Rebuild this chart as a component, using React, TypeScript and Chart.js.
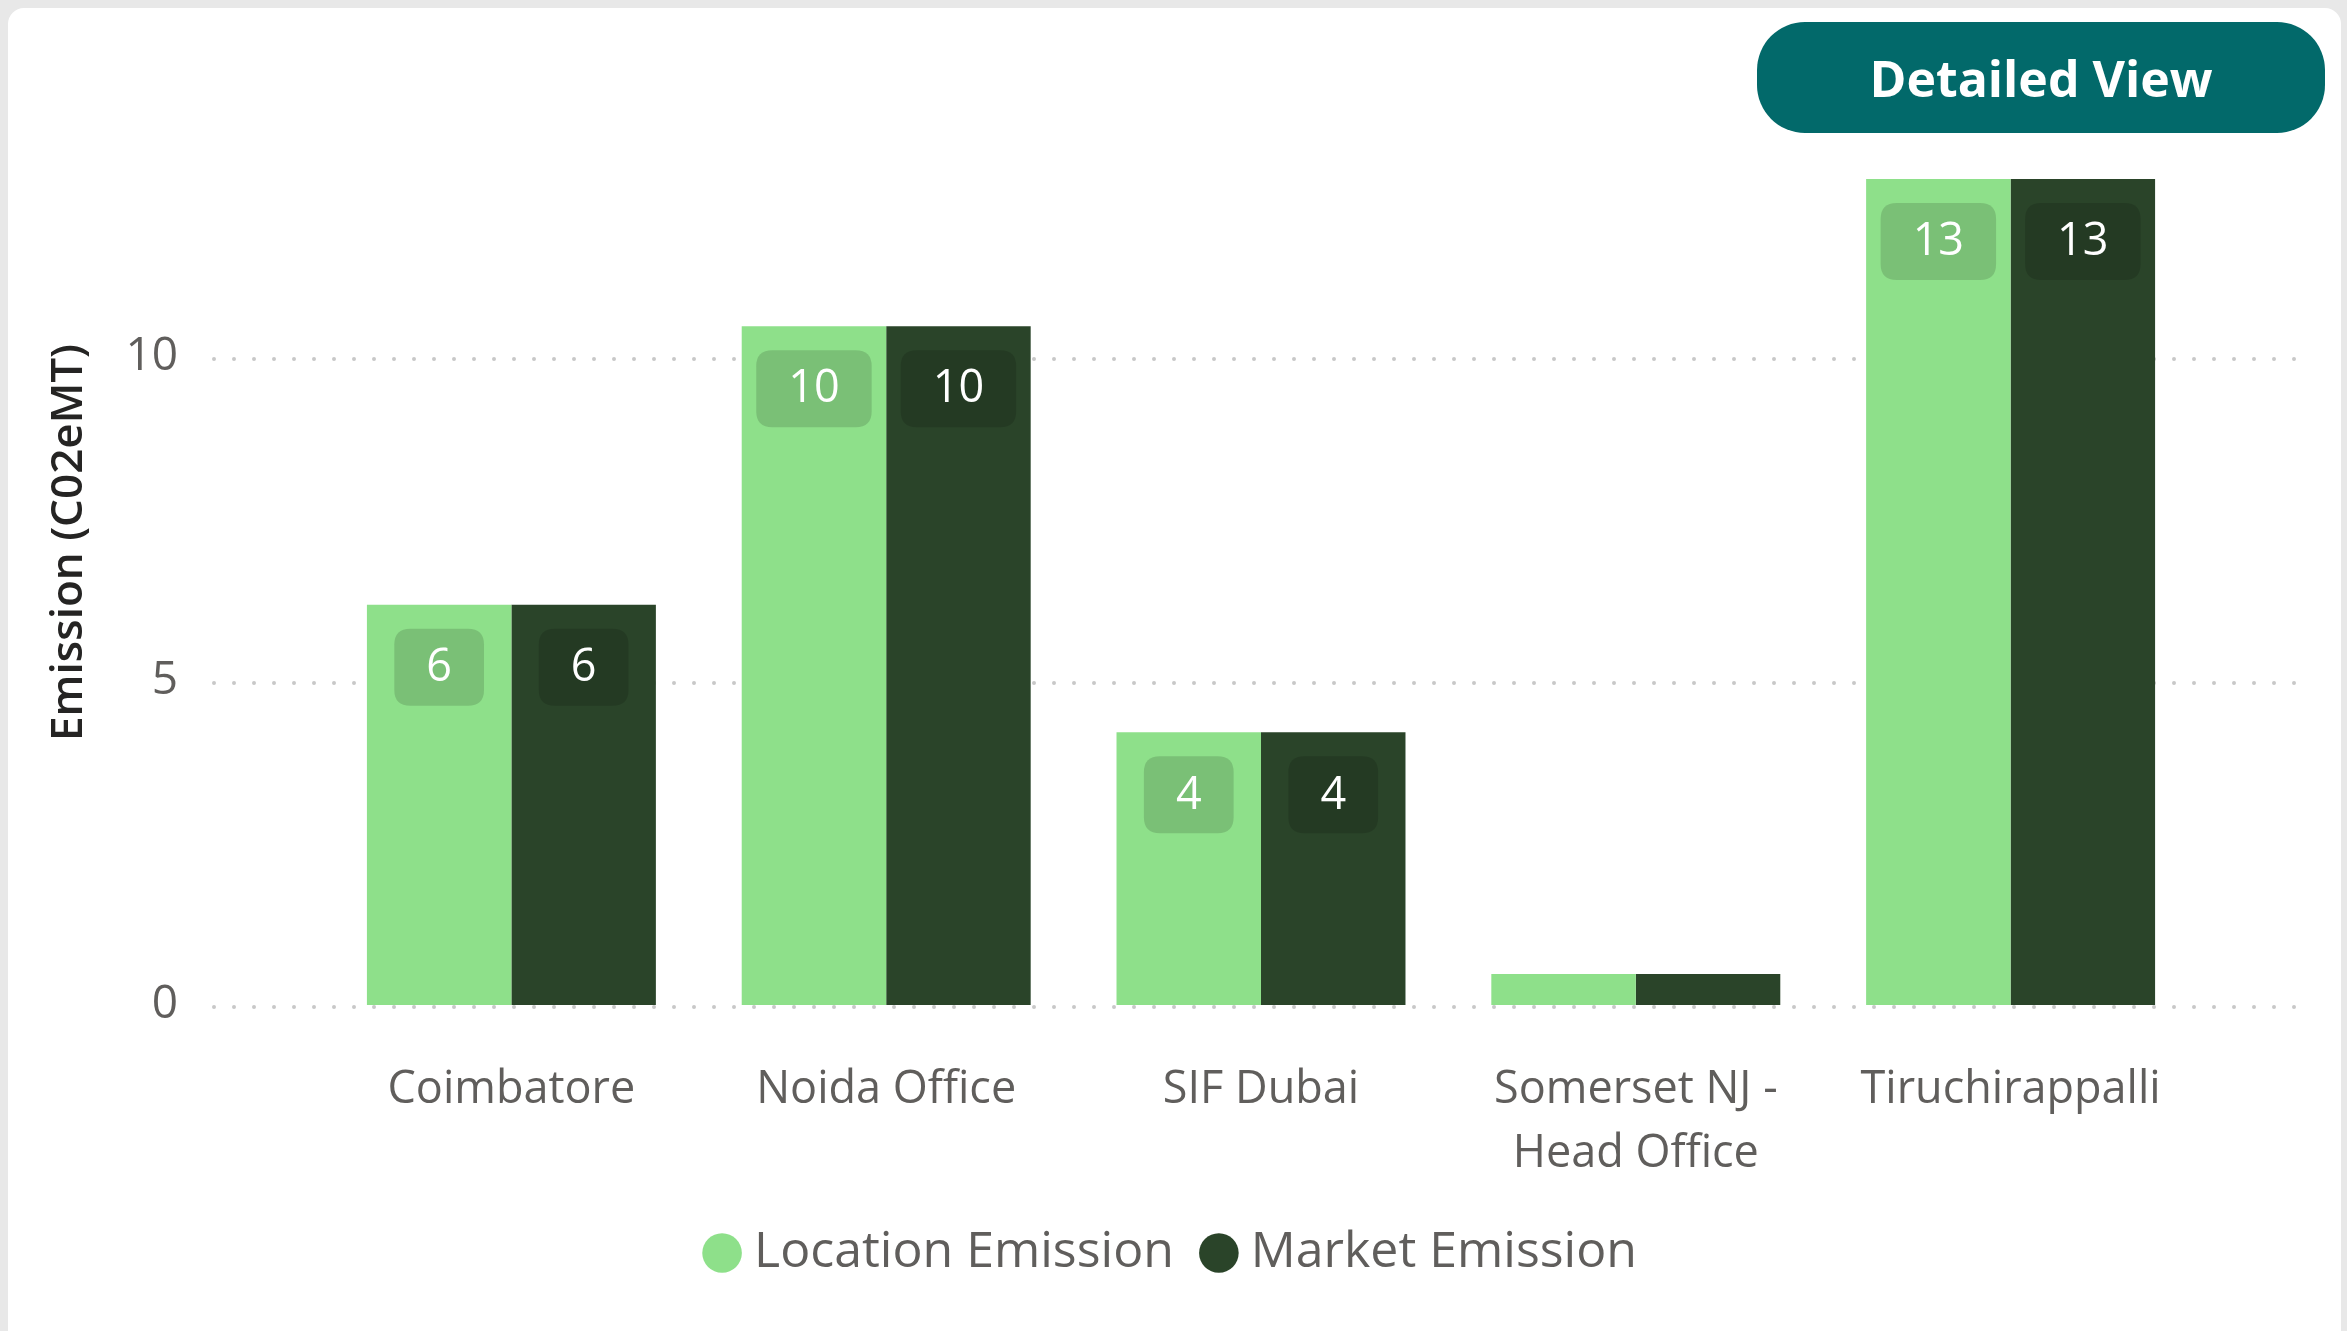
import React, { useEffect, useRef } from "react";
import { Chart, registerables } from "chart.js";

Chart.register(...registerables);

const categories: (string | string[])[] = [
  "Coimbatore",
  "Noida Office",
  "SIF Dubai",
  ["Somerset NJ -", "Head Office"],
  "Tiruchirappalli",
];
const locationEmission = [6.18, 10.48, 4.21, 0.48, 12.75];
const marketEmission = [6.18, 10.48, 4.21, 0.48, 12.75];
const seriesNames = ["Location Emission", "Market Emission"];
const seriesColors = ["#8EE08A", "#2A4429"];
const yTickValues = [0, 5, 10];
const yTitle = "Emission (C02eMT)";
const buttonText = "Detailed View";

const FONT = "'Open Sans', 'Noto Sans', sans-serif";

const dottedGrid = {
  id: "dottedGrid",
  beforeDatasetsDraw(chart: any) {
    const { ctx, chartArea, scales } = chart;
    const y = scales.y;
    ctx.save();
    ctx.strokeStyle = "#C8C8C8";
    ctx.lineWidth = 4;
    ctx.lineCap = "round";
    ctx.setLineDash([0, 20]);
    yTickValues.forEach((v) => {
      const py = Math.round(y.getPixelForValue(v)) + 2;
      ctx.beginPath();
      ctx.moveTo(chartArea.left - 110, py);
      ctx.lineTo(chartArea.right + 103, py);
      ctx.stroke();
    });
    ctx.restore();
  },
};

const legendCenter = {
  id: "legendCenter",
  afterLayout(chart: any) {
    const lg = chart.legend;
    if (!lg) return;
    const d = chart.width / 2 + 1.5 - (lg.left + lg.right) / 2;
    lg.left += d;
    lg.right += d;
  },
};

function roundRect(ctx: CanvasRenderingContext2D, x: number, y: number, w: number, h: number, r: number) {
  ctx.beginPath();
  ctx.moveTo(x + r, y);
  ctx.lineTo(x + w - r, y);
  ctx.quadraticCurveTo(x + w, y, x + w, y + r);
  ctx.lineTo(x + w, y + h - r);
  ctx.quadraticCurveTo(x + w, y + h, x + w - r, y + h);
  ctx.lineTo(x + r, y + h);
  ctx.quadraticCurveTo(x, y + h, x, y + h - r);
  ctx.lineTo(x, y + r);
  ctx.quadraticCurveTo(x, y, x + r, y);
  ctx.closePath();
}

const barLabels = {
  id: "barLabels",
  afterDatasetsDraw(chart: any) {
    const { ctx } = chart;
    ctx.save();
    ctx.font = `400 45px ${FONT}`;
    ctx.textAlign = "center";
    ctx.textBaseline = "middle";
    chart.data.datasets.forEach((ds: any, di: number) => {
      const meta = chart.getDatasetMeta(di);
      meta.data.forEach((bar: any, i: number) => {
        const h = bar.base - bar.y;
        if (h < 120) return;
        const text = String(Math.round(ds.data[i]));
        const tw = ctx.measureText(text).width;
        const bw = tw + 64;
        const bh = 77;
        const top = bar.y + 24;
        ctx.fillStyle = "rgba(0,0,0,0.14)";
        roundRect(ctx, bar.x - bw / 2, top, bw, bh, 16);
        ctx.fill();
        ctx.fillStyle = "#FFFFFF";
        ctx.fillText(text, bar.x, top + bh / 2 + 1);
      });
    });
    ctx.restore();
  },
};

export default function App() {
  const canvasRef = useRef<HTMLCanvasElement | null>(null);

  useEffect(() => {
    if (!canvasRef.current) return;
    const chart = new Chart(canvasRef.current, {
      type: "bar",
      data: {
        labels: categories as any,
        datasets: [
          {
            label: seriesNames[0],
            data: locationEmission,
            backgroundColor: seriesColors[0],
            borderWidth: 0,
            barPercentage: 1,
            categoryPercentage: 0.771,
          },
          {
            label: seriesNames[1],
            data: marketEmission,
            backgroundColor: seriesColors[1],
            borderWidth: 0,
            barPercentage: 1,
            categoryPercentage: 0.771,
          },
        ],
      },
      options: {
        responsive: false,
        animation: false,
        devicePixelRatio: 1,
        layout: { padding: { left: 35, right: 143, top: 72, bottom: 43 } },
        font: { family: FONT },
        plugins: {
          tooltip: { enabled: false },
          legend: {
            position: "bottom",
            labels: {
              usePointStyle: true,
              pointStyle: "circle",
              boxWidth: 14,
              boxHeight: 28,
              padding: 38,
              color: "#605E5C",
              font: { family: FONT, size: 50 },
            },
          },
        },
        scales: {
          x: {
            grid: { display: false },
            border: { display: false },
            ticks: {
              padding: 45,
              color: "#605E5C",
              maxRotation: 0,
              autoSkip: false,
              font: { family: FONT, size: 45, lineHeight: 1.42 },
            },
            afterFit: (s: any) => {
              s.height = 185;
            },
          },
          y: {
            min: 0,
            max: 14.28,
            grid: { display: false },
            border: { display: false },
            afterBuildTicks: (s: any) => {
              s.ticks = yTickValues.map((v) => ({ value: v }));
            },
            afterFit: (s: any) => {
              s.width = 281;
              s.paddingTop = 0;
              s.paddingBottom = 0;
            },
            ticks: {
              padding: 138,
              color: "#605E5C",
              font: { family: FONT, size: 46 },
            },
            title: {
              display: true,
              text: yTitle,
              color: "#252423",
              padding: 0,
              font: { family: FONT, size: 44, weight: "600" },
            },
          },
        },
      } as any,
      plugins: [dottedGrid, barLabels, legendCenter],
    });
    return () => chart.destroy();
  }, []);

  return (
    <div
      style={{
        position: "fixed",
        left: 0,
        top: 0,
        width: 2347,
        height: 1331,
        background: "#E8E8E8",
        overflow: "hidden",
      }}
    >
      <div
        style={{
          position: "absolute",
          left: 8,
          top: 8,
          width: 2333,
          height: 1360,
          background: "#FFFFFF",
          borderRadius: 16,
        }}
      >
        <canvas
          ref={canvasRef}
          width={2333}
          height={1323}
          style={{ position: "absolute", left: 0, top: 0, width: 2333, height: 1323 }}
        />
        <div
          style={{
            position: "absolute",
            left: 1749,
            top: 14,
            width: 568,
            height: 111,
            borderRadius: 48,
            background: "#02696A",
            color: "#FFFFFF",
            fontFamily: FONT,
            fontWeight: 700,
            fontSize: 50,
            display: "flex",
            alignItems: "center",
            justifyContent: "center",
            zIndex: 2,
          }}
        >
          {buttonText}
        </div>
      </div>
    </div>
  );
}
